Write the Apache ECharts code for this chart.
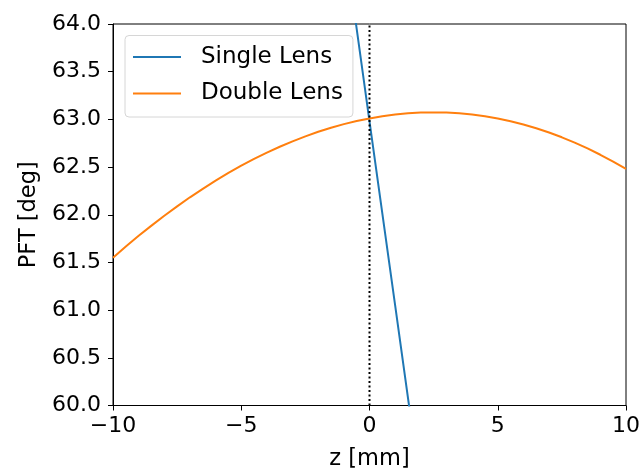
<!DOCTYPE html>
<html>
<head>
<meta charset="utf-8">
<script src="https://cdn.jsdelivr.net/npm/echarts@6/dist/echarts.min.js"></script>
<style>html,body{margin:0;padding:0;background:#fff;}#c{width:640px;height:468px;}</style>
</head>
<body>
<div id="c"></div>
<script>
// Data
const singleZ = [-1, 0, 1, 2];
const singlePFT = [64.92, 62.98, 61.05, 59.11];
const doubleZ = [-10, -9.5, -9, -8.5, -8, -7.5, -7, -6.5, -6, -5.5, -5, -4.5, -4, -3.5, -3, -2.5, -2, -1.5, -1, -0.5,
                 0, 0.5, 1, 1.5, 2, 2.5, 3, 3.5, 4, 4.5, 5, 5.5, 6, 6.5, 7, 7.5, 8, 8.5, 9, 9.5, 10];
const doublePFT = [61.550, 61.667, 61.779, 61.886, 61.990, 62.088, 62.183, 62.272, 62.357, 62.438, 62.514, 62.585, 62.651, 62.713, 62.770, 62.822, 62.870, 62.912, 62.950, 62.982,
                   63.010, 63.033, 63.051, 63.063, 63.071, 63.073, 63.071, 63.063, 63.050, 63.032, 63.009, 62.980, 62.946, 62.907, 62.862, 62.812, 62.757, 62.696, 62.629, 62.557, 62.480];
const refZ = [0, 0];
const refPFT = [60, 64];
const seriesNames = ['Single Lens', 'Double Lens'];

const font = 'DejaVu Sans';
const fs = 22;
const minus = v => String(v).replace('-', '\u2212');

const zip = (a, b) => a.map((v, i) => [v, b[i]]);

const chart = echarts.init(document.getElementById('c'), null, {renderer: 'canvas'});
chart.setOption({
  animation: false,
  backgroundColor: '#fff',
  grid: {left: 113, right: 14, top: 24, bottom: 62.5, show: true, borderColor: '#000', borderWidth: 1,
         backgroundColor: 'transparent', containLabel: false, outerBoundsMode: 'none'},
  legend: {
    orient: 'vertical', left: 125, top: 35.5,
    data: seriesNames,
    icon: 'rect',
    itemWidth: 48, itemHeight: 2, itemGap: 13.5,
    padding: [10, 10, 12, 8],
    backgroundColor: 'rgba(255,255,255,0.8)',
    borderColor: '#d6d6d6', borderWidth: 1, borderRadius: 4,
    textStyle: {fontFamily: font, fontSize: 23, color: '#000', padding: [0, 0, 0, 15], lineHeight: 23}
  },
  xAxis: {
    type: 'value', min: -10, max: 10, interval: 5,
    name: 'z [mm]', nameLocation: 'middle', nameGap: 42,
    nameTextStyle: {fontFamily: font, fontSize: 22.5, color: '#000'},
    axisLine: {show: true, onZero: false, lineStyle: {color: '#000', width: 1}},
    axisTick: {show: true, inside: false, length: 5, lineStyle: {color: '#000'}},
    axisLabel: {fontFamily: font, fontSize: fs, color: '#000', margin: 10, formatter: v => minus(v)},
    splitLine: {show: false}
  },
  yAxis: {
    type: 'value', min: 60, max: 64, interval: 0.5,
    name: 'PFT [deg]', nameLocation: 'middle', nameGap: 71,
    nameTextStyle: {fontFamily: font, fontSize: 22.5, color: '#000'},
    axisLine: {show: true, onZero: false, lineStyle: {color: '#000', width: 1}},
    axisTick: {show: true, inside: false, length: 5, lineStyle: {color: '#000'}},
    axisLabel: {fontFamily: font, fontSize: fs, color: '#000', margin: 12, formatter: v => v.toFixed(1)},
    splitLine: {show: false}
  },
  series: [
    {name: seriesNames[0], type: 'line', data: zip(singleZ, singlePFT), showSymbol: false, symbol: 'none',
     lineStyle: {color: '#1f77b4', width: 2}, itemStyle: {color: '#1f77b4'}, clip: true},
    {name: seriesNames[1], type: 'line', data: zip(doubleZ, doublePFT), showSymbol: false, symbol: 'none', smooth: false,
     lineStyle: {color: '#ff7f0e', width: 2}, itemStyle: {color: '#ff7f0e'}, clip: true},
    {name: 'ref', type: 'line', data: zip(refZ, refPFT), showSymbol: false, symbol: 'none',
     lineStyle: {color: '#000', width: 2, type: [2, 2.5]}, silent: true, z: 3}
  ]
});
</script>
</body>
</html>
